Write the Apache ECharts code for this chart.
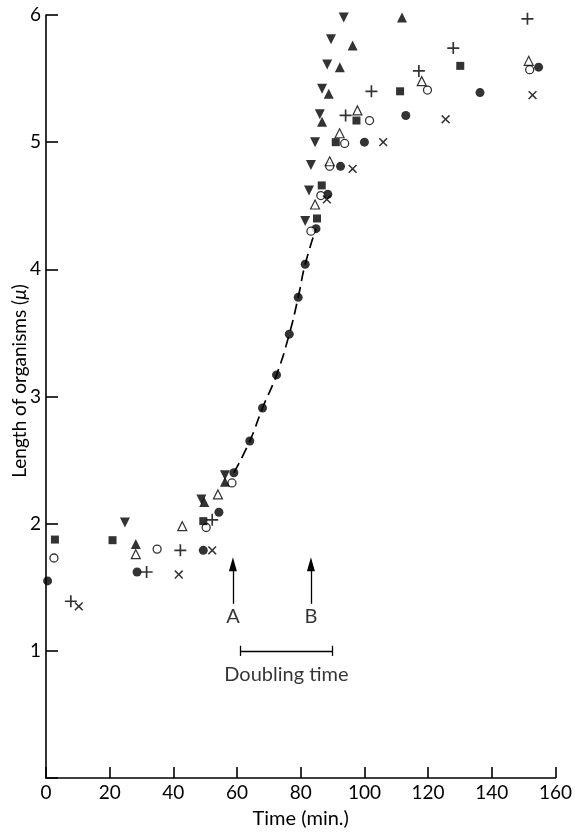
<!DOCTYPE html>
<html>
<head>
<meta charset="utf-8">
<script src="https://cdn.jsdelivr.net/npm/echarts@6/dist/echarts.min.js"></script>
<style>
  html, body { margin: 0; background: #fff; }
  #chart { width: 575px; height: 834px; }
</style>
</head>
<body>
<div id="chart"></div>
<script>
// values, [time (min.), length (μ)]
const filledCircles = [[0.5, 1.55], [28.6, 1.62], [49.4, 1.79], [54.3, 2.09], [59.0, 2.40], [64.0, 2.65], [68.0, 2.91], [72.4, 3.17], [76.4, 3.49], [79.2, 3.78], [81.4, 4.04], [84.8, 4.32], [88.5, 4.59], [92.5, 4.81], [100, 5.0], [113, 5.21], [136.3, 5.39], [154.7, 5.59]]
const openCircles = [[2.5, 1.73], [34.9, 1.80], [50.3, 1.97], [58.4, 2.32], [83.2, 4.30], [86.3, 4.58], [89.1, 4.81], [93.8, 4.99], [101.6, 5.17], [119.8, 5.41], [151.9, 5.57]]
const filledSquares = [[2.8, 1.875], [20.9, 1.87], [49.4, 2.02], [85.1, 4.40], [86.6, 4.66], [91, 5.0], [97.5, 5.17], [111.2, 5.40], [130.1, 5.60]]
const trianglesUp = [[28.2, 1.84], [49.7, 2.17], [56.2, 2.33], [86.7, 5.16], [88.8, 5.38], [92.3, 5.59], [96.3, 5.76], [111.8, 5.98]]
const trianglesDown = [[24.8, 2.01], [48.8, 2.19], [56.2, 2.38], [81.4, 4.38], [82.6, 4.62], [83.2, 4.82], [84.5, 5.0], [86.0, 5.22], [86.7, 5.42], [88.3, 5.61], [89.5, 5.81], [93.5, 5.98]]
const openTriangles = [[28.2, 1.76], [42.8, 1.98], [54, 2.23], [84.5, 4.51], [89.1, 4.85], [92.2, 5.07], [97.8, 5.25], [118, 5.48], [151.6, 5.64]]
const plusses = [[7.8, 1.39], [31.6, 1.62], [42.2, 1.79], [52.2, 2.03], [94.1, 5.21], [102.2, 5.40], [117.1, 5.56], [127.9, 5.74], [151.2, 5.97]]
const crosses = [[10.3, 1.35], [41.7, 1.60], [52.2, 1.79], [88.2, 4.55], [96.3, 4.79], [105.9, 5.0], [125.5, 5.18], [152.8, 5.37]]

// dashed exponential curve
const curve = [[59.0, 2.40], [64.0, 2.65], [68.0, 2.91], [72.4, 3.17], [76.4, 3.49], [79.2, 3.78], [81.4, 4.04], [84.8, 4.32]]

// arrows A and B, doubling time bar
const arrowTimes = [58.7, 83.2]
const arrowNames = ['A', 'B']
const arrowFrom = 1.37
const arrowTo = 1.68
const doubling = [61, 90]
const doublingLevel = 1.0

const xTicks = [0, 160, 20]
const yTicks = [0, 6, 1]

const FONT = 'Lato'
const black = '#000'

const plusPath = 'path://M4.3,0H5.7V4.3H10V5.7H5.7V10H4.3V5.7H0V4.3H4.3Z'

function scatter (data, symbol, size, extra) {
  return Object.assign({
    type: 'scatter',
    data: data,
    symbol: symbol,
    symbolSize: size,
    itemStyle: { color: black },
    z: 3
  }, extra || {})
}

const chart = echarts.init(document.getElementById('chart'))

let markLines = []
arrowTimes.forEach(t => {
  markLines.push([
    { coord: [t, arrowFrom], symbol: 'none' },
    { coord: [t, arrowTo], symbol: 'triangle', symbolSize: [8, 14] }
  ])
})
markLines.push([{ coord: [doubling[0], doublingLevel] }, { coord: [doubling[1], doublingLevel] }])
doubling.forEach(t => {
  markLines.push([{ coord: [t, doublingLevel - 0.04] }, { coord: [t, doublingLevel + 0.04] }])
})

let labels = arrowTimes.map((t, i) => [t, 1.27, arrowNames[i]])
labels.push([(doubling[0] + doubling[1]) / 2, 0.81, 'Doubling time'])

chart.setOption({
  animation: false,
  grid: { left: 46, right: 15, top: 15, bottom: 48 },
  xAxis: {
    type: 'value',
    min: xTicks[0],
    max: xTicks[1],
    interval: xTicks[2],
    name: 'Time (min.)',
    nameLocation: 'middle',
    nameGap: 31,
    nameTextStyle: { fontFamily: FONT, fontSize: 20, color: black },
    axisLine: { show: true, lineStyle: { color: black, width: 1.6 } },
    axisTick: { show: true, inside: true, length: 11, lineStyle: { color: black, width: 1.6 } },
    axisLabel: { margin: 5, fontFamily: FONT, fontSize: 19, color: black },
    splitLine: { show: false }
  },
  yAxis: {
    type: 'value',
    min: yTicks[0],
    max: yTicks[1],
    interval: yTicks[2],
    axisLine: { show: true, lineStyle: { color: black, width: 1.6 } },
    axisTick: { show: true, inside: true, length: 12, lineStyle: { color: black, width: 1.6 } },
    axisLabel: {
      margin: 5,
      fontFamily: FONT,
      fontSize: 19,
      color: black,
      formatter: v => v === 0 ? '' : v
    },
    splitLine: { show: false }
  },
  graphic: [{
    type: 'text',
    x: 20,
    y: 381,
    rotation: Math.PI / 2,
    style: {
      text: '{a|Length of organisms (}{i|μ}{a|)}',
      align: 'center',
      verticalAlign: 'middle',
      rich: {
        a: { fontFamily: FONT, fontSize: 19, fill: black },
        i: { fontFamily: FONT, fontSize: 19, fontStyle: 'italic', fill: black }
      }
    }
  }],
  series: [
    {
      type: 'line',
      data: curve,
      smooth: true,
      symbol: 'none',
      lineStyle: { color: black, width: 1.7, type: [11, 6] },
      z: 1
    },
    scatter(filledCircles, 'circle', 9),
    scatter(openCircles, 'circle', 8, { itemStyle: { color: '#fff', borderColor: black, borderWidth: 1.3 } }),
    scatter(filledSquares, 'rect', 8),
    scatter(trianglesUp, 'triangle', 10),
    scatter(trianglesDown, 'triangle', 10, { symbolRotate: 180 }),
    scatter(openTriangles, 'triangle', 9, { itemStyle: { color: '#fff', borderColor: black, borderWidth: 1.2 } }),
    scatter(plusses, plusPath, 12),
    scatter(crosses, plusPath, 11, { symbolRotate: 45 }),
    {
      type: 'scatter',
      data: labels,
      symbolSize: 1,
      itemStyle: { color: 'rgba(0,0,0,0)' },
      label: {
        show: true,
        position: 'inside',
        formatter: p => p.value[2],
        fontFamily: FONT,
        fontSize: 20,
        color: black
      },
      markLine: {
        silent: true,
        symbol: ['none', 'none'],
        label: { show: false },
        lineStyle: { color: black, width: 1.3, type: 'solid' },
        data: markLines
      },
      z: 2
    }
  ]
})
</script>
</body>
</html>
